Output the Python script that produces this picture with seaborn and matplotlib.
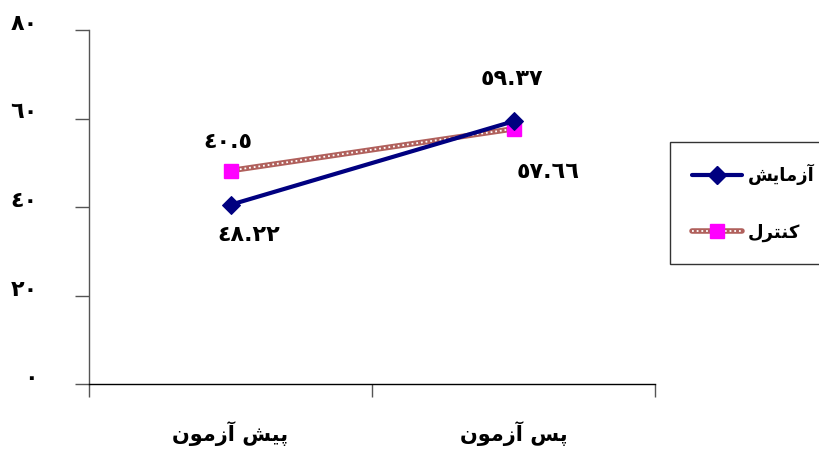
import matplotlib
matplotlib.use("Agg")
import matplotlib.pyplot as plt
from matplotlib.lines import Line2D
from matplotlib.transforms import ScaledTranslation
import seaborn as sns
import pandas as pd

# Persian text written in visual order with Arabic presentation forms
cat_labels = ["\uFEE5\uFEEE\uFEE3\uFEAF\uFE81 \uFEB6\uFEF4\uFB58",   # پیش آزمون
              "\uFEE5\uFEEE\uFEE3\uFEAF\uFE81 \uFEB2\uFB58"]         # پس آزمون
series_names = ["\uFEB6\uFEF3\uFE8E\uFEE3\uFEAF\uFE81",              # آزمایش
                "\uFEDD\uFEAE\uFE98\uFEE8\uFB90"]                    # کنترل
experiment = [40.5, 59.37]
control = [48.22, 57.66]
experiment_text = ["\u0664\u0660.\u0665", "\u0665\u0669.\u0663\u0667"]
control_text = ["\u0664\u0668.\u0662\u0662", "\u0665\u0667.\u0666\u0666"]
y_ticks = [0, 20, 40, 60, 80]
y_tick_text = ["\u0660", "\u0662\u0660", "\u0664\u0660", "\u0666\u0660", "\u0668\u0660"]

sns.set_style("white")
plt.rcParams["font.family"] = ["DejaVu Sans"]
plt.rcParams["font.weight"] = "bold"
plt.rcParams["text.color"] = "black"
plt.rcParams["xtick.labelcolor"] = "black"
plt.rcParams["ytick.labelcolor"] = "black"

fig = plt.figure(figsize=(8.19, 4.51), dpi=100)
ax = fig.add_axes([89 / 819, 1 - 384 / 451, (655 - 89) / 819, (384 - 30) / 451])

pos = [0, 1]
df = pd.DataFrame({"pos": pos * 2,
                   "value": experiment + control,
                   "group": [series_names[0]] * 2 + [series_names[1]] * 2})

navy = "#000080"
brick = "#b0605c"
magenta = "#ff00ff"

# control: textured line (thick brick line with white dots) and square markers
sns.lineplot(data=df[df.group == series_names[1]], x="pos", y="value", ax=ax,
             color=brick, lw=4, legend=False)
ax.plot(pos, control, color="white", lw=1.3, ls=(0, (1, 1.6)))
ax.plot(pos, control, ls="none", marker="s", ms=10, color=magenta, mec=magenta)

# experiment: navy line with diamond markers
sns.lineplot(data=df[df.group == series_names[0]], x="pos", y="value", ax=ax,
             color=navy, lw=3, marker="D", markersize=9, mec=navy, legend=False)

# value labels
exp_off = [(-3, 63), (-2, 42)]
ctl_off = [(18, -64), (35, -43)]
for i in range(2):
    ax.annotate(experiment_text[i], (pos[i], experiment[i]), xytext=(exp_off[i][0] * 0.72, exp_off[i][1] * 0.72),
                textcoords="offset points", ha="center", va="center", fontsize=16, fontweight="bold")
    ax.annotate(control_text[i], (pos[i], control[i]), xytext=(ctl_off[i][0] * 0.72, ctl_off[i][1] * 0.72),
                textcoords="offset points", ha="center", va="center", fontsize=16, fontweight="bold")

ax.set_xlim(-0.5, 1.5)
ax.set_ylim(0, 80)
ax.set_xlabel("")
ax.set_ylabel("")
for s in ["top", "right"]:
    ax.spines[s].set_visible(False)
ax.spines["left"].set_color("#555555")
ax.spines["bottom"].set_color("black")
for s in ["left", "bottom"]:
    ax.spines[s].set_linewidth(1)

ax.set_yticks(y_ticks)
ax.set_yticklabels(y_tick_text, fontsize=16, fontweight="bold")
ax.tick_params(axis="y", direction="out", length=10, width=1, color="#555555", pad=27, left=True)
for lab in ax.get_yticklabels():
    lab.set_transform(lab.get_transform() + ScaledTranslation(0, 8 / 100, fig.dpi_scale_trans))

ax.set_xticks(pos)
ax.set_xticklabels(cat_labels, fontsize=15, fontweight="bold")
ax.set_xticks([-0.5, 0.5, 1.5], minor=True)
ax.tick_params(axis="x", which="major", length=0, pad=27)
ax.tick_params(axis="x", which="minor", direction="out", length=9, width=1, color="#555555", bottom=True)

handles = [Line2D([], [], color=navy, lw=3, marker="D", ms=9),
           (Line2D([], [], color=brick, lw=4),
            Line2D([], [], color="white", lw=1.3, ls=(0, (1, 1.6))),
            Line2D([], [], ls="none", marker="s", ms=10, color=magenta))]
leg = fig.legend(handles, series_names, loc="upper left", bbox_to_anchor=(670 / 819, 1 - 142 / 451),
                 frameon=True, fancybox=False, edgecolor="black", fontsize=13,
                 handlelength=2.8, labelspacing=2.15, borderpad=1.2, handletextpad=0.3,
                 borderaxespad=0)
leg.get_frame().set_linewidth(1)

fig.savefig("out.png", dpi=100)
